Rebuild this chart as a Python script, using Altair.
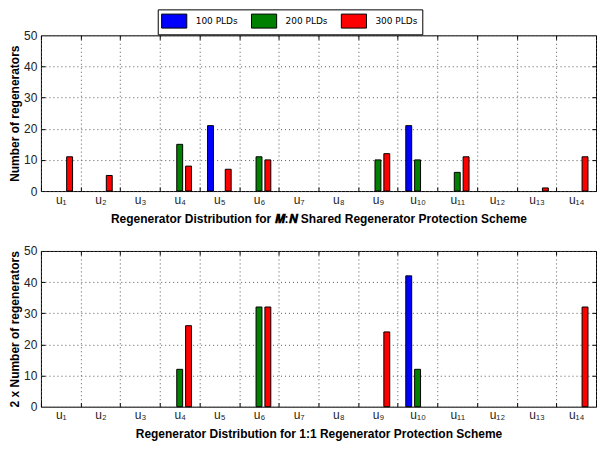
import altair as alt
import pandas as pd

categories = ["u₁", "u₂", "u₃", "u₄", "u₅", "u₆", "u₇", "u₈", "u₉", "u₁₀", "u₁₁", "u₁₂", "u₁₃", "u₁₄"]
series = ["100 PLDs", "200 PLDs", "300 PLDs"]
colors = ["#0000ff", "#008000", "#ff0000"]

# M:N shared regenerator protection
mn_100 = [0, 0, 0, 0, 21, 0, 0, 0, 0, 21, 0, 0, 0, 0]
mn_200 = [0, 0, 0, 15, 0, 11, 0, 0, 10, 10, 6, 0, 0, 0]
mn_300 = [11, 5, 0, 8, 7, 10, 0, 0, 12, 0, 11, 0, 1, 11]

# 1:1 regenerator protection (2 x number)
p11_100 = [0, 0, 0, 0, 0, 0, 0, 0, 0, 42, 0, 0, 0, 0]
p11_200 = [0, 0, 0, 12, 0, 32, 0, 0, 0, 12, 0, 0, 0, 0]
p11_300 = [0, 0, 0, 26, 0, 32, 0, 0, 24, 0, 0, 0, 0, 32]

yticks = [0, 10, 20, 30, 40, 50]
inner_ticks = [10, 20, 30, 40]


def make_df(a, b, c):
    rows = []
    for s, vals in zip(series, [a, b, c]):
        for cat, v in zip(categories, vals):
            rows.append({"cat": cat, "series": s, "value": v})
    return pd.DataFrame(rows)


xscale = alt.Scale(domain=categories, paddingInner=0, paddingOuter=0)
yscale = alt.Scale(domain=[0, 50])


def tick_axis_x(orient):
    return alt.Axis(orient=orient, labels=False, title=None, domain=False, grid=False,
                    ticks=True, tickSize=4, offset=-4, tickBand="extent",
                    tickColor="black", tickWidth=1)


def tick_axis_y(orient):
    return alt.Axis(orient=orient, labels=False, title=None, domain=False, grid=False,
                    ticks=True, tickSize=4, offset=-4, values=inner_ticks,
                    tickColor="black", tickWidth=1)


def panel(df, xtitle, ytitle):
    base = alt.Chart(df).transform_filter(alt.datum.value > 0)
    bars = base.mark_bar(stroke="black", strokeWidth=1).encode(
        x=alt.X("cat:N", sort=categories, scale=xscale,
                axis=alt.Axis(title=xtitle, labelAngle=0, tickBand="extent", grid=True,
                              gridDash=[1, 3], gridColor="#555555", gridWidth=1,
                              ticks=False, domain=False, labelPadding=3,
                              labelFontSize=12, titlePadding=8)),
        xOffset=alt.XOffset("series:N",
                            scale=alt.Scale(domain=series, paddingInner=1 / 3, paddingOuter=0.906)),
        y=alt.Y("value:Q", scale=yscale,
                axis=alt.Axis(values=yticks, title=ytitle, grid=True, gridDash=[1, 3],
                              gridColor="#555555", ticks=False, domain=False,
                              labelPadding=4, labelFontSize=12, titlePadding=2)),
        color=alt.Color("series:N", scale=alt.Scale(domain=series, range=colors),
                        legend=alt.Legend(title=None)),
    )
    ticks_tr = base.mark_point(opacity=0).encode(
        x=alt.X("cat:N", sort=categories, scale=xscale, axis=tick_axis_x("top")),
        y=alt.Y("value:Q", scale=yscale, axis=tick_axis_y("right")),
    )
    ticks_bl = base.mark_point(opacity=0).encode(
        x=alt.X("cat:N", sort=categories, scale=xscale, axis=tick_axis_x("bottom")),
        y=alt.Y("value:Q", scale=yscale, axis=tick_axis_y("left")),
    )
    return alt.layer(bars, ticks_tr, ticks_bl).resolve_axis(
        x="independent", y="independent"
    ).properties(width=556, height=156)


top = panel(make_df(mn_100, mn_200, mn_300),
            "Regenerator Distribution for 𝑴:𝑵 Shared Regenerator Protection Scheme",
            "Number of regenerators")
bottom = panel(make_df(p11_100, p11_200, p11_300),
               "Regenerator Distribution for 1:1 Regenerator Protection Scheme",
               "2 x Number of regenerators")

chart = alt.vconcat(top, bottom, spacing=19).configure(
    padding=0, font="Liberation Sans"
).configure_view(
    stroke="black", strokeWidth=1
).configure_axis(
    labelFont="Liberation Sans", labelFontSize=11, labelColor="#222222",
    titleFont="Liberation Sans", titleFontSize=12, titleFontWeight="bold", titleColor="black",
).configure_legend(
    orient="none", legendX=117, legendY=-26, direction="horizontal",
    strokeColor="black", fillColor="white", padding=4,
    symbolType="M-1.8,-1H1.8V1H-1.8Z", symbolSize=196, symbolOffset=5,
    symbolStrokeColor="black", symbolStrokeWidth=1, symbolOpacity=1,
    labelFont="DejaVu Sans", labelFontSize=9, labelColor="black",
    labelOffset=14, columnPadding=10,
)

chart.save("out.html", embed_options={"renderer": "svg", "actions": False})
